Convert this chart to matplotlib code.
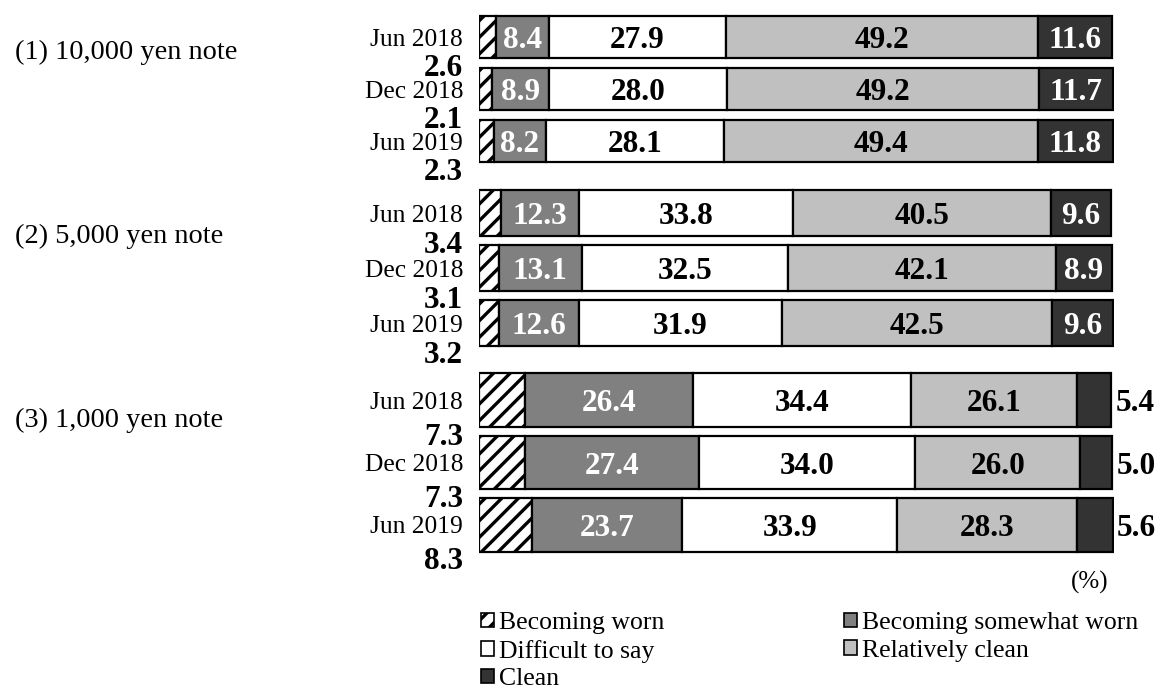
import matplotlib
matplotlib.use('Agg')
import matplotlib.pyplot as plt
from matplotlib.patches import Patch
import numpy as np

plt.rcParams['font.family'] = ['Liberation Serif', 'DejaVu Serif']
plt.rcParams['hatch.linewidth'] = 2.4

# ---------------- data ----------------
groups = ['(1) 10,000 yen note', '(2) 5,000 yen note', '(3) 1,000 yen note']
dates = ['Jun 2018', 'Dec 2018', 'Jun 2019']
categories = ['Becoming worn', 'Becoming somewhat worn', 'Difficult to say',
              'Relatively clean', 'Clean']

worn = [[2.6, 2.1, 2.3], [3.4, 3.1, 3.2], [7.3, 7.3, 8.3]]
somewhat = [[8.4, 8.9, 8.2], [12.3, 13.1, 12.6], [26.4, 27.4, 23.7]]
difficult = [[27.9, 28.0, 28.1], [33.8, 32.5, 31.9], [34.4, 34.0, 33.9]]
relclean = [[49.2, 49.2, 49.4], [40.5, 42.1, 42.5], [26.1, 26.0, 28.3]]
clean = [[11.6, 11.7, 11.8], [9.6, 8.9, 9.6], [5.4, 5.0, 5.6]]
clean_outside = [False, False, True]

# ---------------- style ----------------
face = ['white', '#808080', 'white', '#c0c0c0', '#333333']
hatches = ['//', None, None, None, None]
txtcol = [None, 'white', 'black', 'black', 'white']

W, H = 1167, 695
fig = plt.figure(figsize=(W / 100, H / 100), dpi=100)

def px_axes(left, top, right, bottom):
    return fig.add_axes([left / W, 1 - bottom / H, (right - left) / W, (bottom - top) / H])

ax_px = [(11, 167), (185.5, 350.5), (369, 556)]
bar_h = [0.81, 0.82, 0.86]
group_label_y = [49, 233, 417]
VAL_FS = 22.5
DATE_FS = 18.4

for g in range(3):
    top, bottom = ax_px[g]
    ax = px_axes(479, top, 1114, bottom)
    series = [worn[g], somewhat[g], difficult[g], relclean[g], clean[g]]
    y = np.arange(len(dates))
    left = np.zeros(len(dates))
    h = bar_h[g]
    for k, vals in enumerate(series):
        vals = np.array(vals)
        ax.barh(y, vals, left=left, height=h, color=face[k], edgecolor='black',
                linewidth=1.6, hatch=hatches[k])
        for i in range(len(dates)):
            v = vals[i]
            if k == 0:
                ax.annotate(f'{v:.1f}', xy=(0, y[i] + h / 2), xycoords='data',
                            xytext=(-11.5, -4.8), textcoords='offset points',
                            ha='right', va='center_baseline', fontsize=VAL_FS,
                            fontweight='bold', color='black', annotation_clip=False)
            elif k == 4 and clean_outside[g]:
                ax.annotate(f'{v:.1f}', xy=(left[i] + v, y[i]), xycoords='data',
                            xytext=(3, 0), textcoords='offset points',
                            ha='left', va='center_baseline', fontsize=VAL_FS,
                            fontweight='bold', color='black', annotation_clip=False)
            else:
                ax.text(left[i] + v / 2, y[i], f'{v:.1f}', ha='center',
                        va='center_baseline', fontsize=VAL_FS, fontweight='bold',
                        color=txtcol[k])
        left = left + vals
    ax.set_xlim(0, 100)
    ax.set_ylim(len(dates) - 0.5, -0.5)
    ax.set_yticks(y)
    ax.set_yticklabels(dates, fontsize=DATE_FS)
    ax.tick_params(axis='y', length=0, pad=11.5)
    ax.set_xticks([])
    for s in ax.spines.values():
        s.set_visible(False)
    fig.text(15 / W, 1 - group_label_y[g] / H, groups[g], fontsize=20.4,
             ha='left', va='center_baseline')

fig.text(1108 / W, 1 - 580 / H, '(%)', fontsize=18, ha='right', va='center_baseline')

handles = [Patch(facecolor=face[k], edgecolor='black', hatch=hatches[k], linewidth=1.2,
                 label=categories[k]) for k in range(5)]
order = [0, 2, 4, 1, 3]
fig.legend([handles[i] for i in order], [categories[i] for i in order],
           loc='upper left', bbox_to_anchor=(481 / W, 1 - 612 / H), ncol=2,
           frameon=False, fontsize=18.5, handlelength=0.5, handleheight=0.5,
           handletextpad=0.2, labelspacing=0.22, columnspacing=7.0, borderpad=0,
           borderaxespad=0)

fig.savefig('out.png', dpi=100)
